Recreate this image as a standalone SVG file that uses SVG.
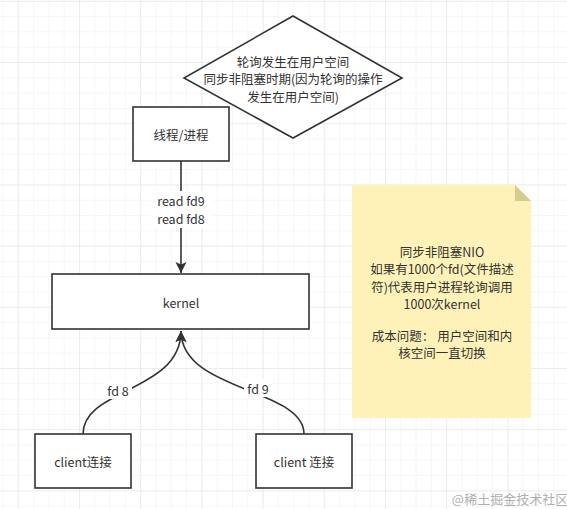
<svg xmlns="http://www.w3.org/2000/svg" width="567" height="509" viewBox="0 0 567 509">
<style>
text{font-family:"Noto Sans CJK SC","Liberation Sans",sans-serif;font-size:12.5px;fill:#333;text-anchor:middle;dominant-baseline:central}
.box{fill:#fff;stroke:#333;stroke-width:1.6}
.edge{fill:none;stroke:#333;stroke-width:1.6}
.lbl{fill:#fff}
</style>
<defs>
<pattern id="minor" x="2.5" y="0.8" width="15.3" height="15.3" patternUnits="userSpaceOnUse">
<path d="M0,0H15.3M0,0V15.3" fill="none" stroke="#eeeeee" stroke-width="1"/>
</pattern>
<pattern id="major" x="17.8" y="0.8" width="61.2" height="61.2" patternUnits="userSpaceOnUse">
<path d="M0,0H61.2M0,0V61.2" fill="none" stroke="#e4e4e4" stroke-width="1.2"/>
</pattern>
<marker id="arr" markerWidth="12" markerHeight="12" viewBox="0 0 12 12" refX="11" refY="6" orient="auto" markerUnits="userSpaceOnUse">
<path d="M0,0.5L11,6L0,11.5L2.5,6Z" fill="#333"/>
</marker>
</defs>
<rect width="567" height="509" fill="#fff"/>
<rect width="567" height="509" fill="url(#minor)"/>
<rect width="567" height="509" fill="url(#major)"/>

<g id="edges">
<path class="edge" d="M181,161V273" marker-end="url(#arr)"/>
<rect class="lbl" x="150" y="191" width="62" height="37"/>
<text x="181" y="200.5">read fd9</text>
<text x="181" y="218.5">read fd8</text>
<path class="edge" d="M83,434C83,388 181,392 181,331" marker-end="url(#arr)"/>
<path class="edge" d="M304,434C304,388 181,392 181,331" marker-end="url(#arr)"/>
<rect class="lbl" x="104" y="381" width="28" height="18"/>
<text x="118" y="390">fd 8</text>
<rect class="lbl" x="244" y="379" width="28" height="18"/>
<text x="258" y="388">fd 9</text>
</g>

<g id="diamond">
<path class="box" d="M293,16L402,78L293,138L184,78Z"/>
<text x="293" y="61">轮询发生在用户空间</text>
<text x="293" y="78.5">同步非阻塞时期(因为轮询的操作</text>
<text x="293" y="96">发生在用户空间)</text>
</g>

<g id="thread">
<rect class="box" x="133" y="107" width="96" height="54"/>
<text x="181" y="134">线程/进程</text>
</g>

<g id="kernel">
<rect class="box" x="52" y="274" width="257" height="55"/>
<text x="181" y="302">kernel</text>
</g>

<g id="client1">
<rect class="box" x="35" y="434" width="96" height="54"/>
<text x="83" y="461">client连接</text>
</g>

<g id="client2">
<rect class="box" x="256" y="434" width="96" height="54"/>
<text x="304" y="461">client 连接</text>
</g>

<g id="note">
<path d="M352,185H515L531,201V418H352Z" fill="#fff2b8"/>
<path d="M515,185L531,201H515Z" fill="#d8cb90"/>
<text x="442" y="251">同步非阻塞NIO</text>
<text x="442" y="268.5">如果有1000个fd(文件描述</text>
<text x="442" y="286">符)代表用户进程轮询调用</text>
<text x="442" y="303.5">1000次kernel</text>
<text x="442" y="335">成本问题： 用户空间和内</text>
<text x="442" y="352.5">核空间一直切换</text>
</g>

<text x="510" y="498" style="fill:#b0b0b0;font-size:13px">@稀土掘金技术社区</text>
</svg>
